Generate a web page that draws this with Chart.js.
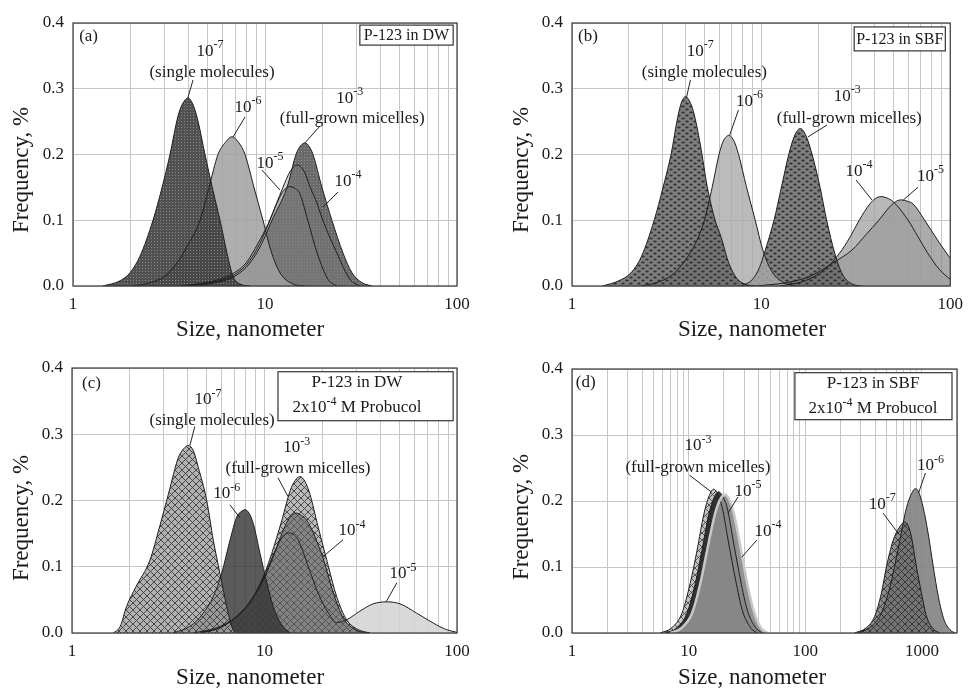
<!DOCTYPE html>
<html>
<head>
<meta charset="utf-8">
<script src="https://cdn.jsdelivr.net/npm/chart.js@4.4.1/dist/chart.umd.min.js"></script>
<style>
  body { margin: 0; background: #fff; }
  #wrap { position: relative; width: 971px; height: 688px; }
  canvas { position: absolute; }
</style>
</head>
<body>
<div id="wrap">
  <canvas id="pa" width="485" height="344" style="left:0;top:0"></canvas>
  <canvas id="pb" width="486" height="344" style="left:485px;top:0"></canvas>
  <canvas id="pc" width="485" height="344" style="left:0;top:344px"></canvas>
  <canvas id="pd" width="486" height="344" style="left:485px;top:344px"></canvas>
</div>
<script>
// size (nm), frequency (%)

// (a) P-123 in DW
const a7 = [[1.43,0],[1.76,0.008],[1.98,0.02],[2.23,0.045],[2.61,0.10],[2.91,0.15],[3.20,0.20],[3.52,0.258],[3.72,0.277],[3.97,0.286],[4.2,0.277],[4.45,0.254],[4.87,0.20],[5.36,0.145],[5.83,0.10],[6.34,0.05],[6.81,0.015],[7.41,0.003],[8.35,0]];
const a6 = [[2.05,0],[2.52,0.005],[3.01,0.015],[3.48,0.035],[3.92,0.06],[4.59,0.10],[5.11,0.15],[5.69,0.20],[6.2,0.218],[6.73,0.227],[7.3,0.218],[7.87,0.20],[8.76,0.15],[9.76,0.10],[10.7,0.055],[11.97,0.02],[14.0,0.003],[16.2,0]];
const a5 = [[3.61,0],[4.87,0.005],[6.41,0.015],[7.96,0.035],[9.20,0.065],[10.4,0.095],[11.7,0.13],[12.5,0.145],[13.5,0.151],[14.4,0.148],[15.2,0.14],[16.7,0.10],[18.7,0.05],[21.3,0.01],[23.7,0]];
const a4 = [[3.83,0],[5.17,0.005],[6.73,0.015],[8.15,0.035],[9.42,0.065],[10.6,0.10],[12.4,0.15],[13.5,0.174],[14.7,0.184],[16.0,0.174],[17.2,0.15],[18.7,0.125],[20.0,0.10],[23.7,0.05],[27.7,0.01],[31.2,0]];
const a3 = [[4.07,0],[5.49,0.005],[6.98,0.015],[8.35,0.035],[9.64,0.065],[10.87,0.10],[13.02,0.15],[14.5,0.20],[15.3,0.213],[16.2,0.2175],[17.0,0.212],[17.78,0.20],[19.8,0.15],[22.3,0.10],[25.5,0.05],[28.4,0.02],[32.0,0.005],[36.1,0]];

// (b) P-123 in SBF
const b7 = [[1.45,0],[1.77,0.008],[2.05,0.02],[2.33,0.045],[2.72,0.10],[3.03,0.15],[3.34,0.20],[3.63,0.258],[3.8,0.280],[3.99,0.288],[4.2,0.280],[4.39,0.265],[4.77,0.215],[5.19,0.151],[5.71,0.10],[6.13,0.075],[6.74,0.035],[7.42,0.012],[8.36,0.002],[9.42,0]];
const b6 = [[2.31,0],[2.86,0.006],[3.42,0.018],[3.99,0.04],[4.50,0.065],[5.01,0.10],[5.51,0.15],[5.99,0.20],[6.3,0.22],[6.75,0.229],[7.2,0.22],[7.60,0.20],[8.36,0.151],[9.31,0.10],[10.2,0.055],[11.4,0.022],[13.2,0.005],[15.2,0]];
const b3 = [[7.9,0],[9.0,0.01],[9.8,0.028],[10.4,0.05],[11.7,0.10],[12.8,0.15],[14.0,0.20],[15.0,0.228],[16.1,0.2395],[17.3,0.228],[18.6,0.20],[20.5,0.15],[22.2,0.10],[24.5,0.05],[26.9,0.018],[30.3,0.003],[34.2,0]];
const b4 = [[12.7,0],[17.1,0.008],[21.7,0.025],[26.0,0.05],[29.6,0.075],[33.0,0.10],[37.6,0.125],[40.2,0.133],[42.9,0.136],[46.2,0.134],[50.0,0.128],[59.9,0.10],[67.5,0.075],[76.0,0.05],[87.7,0.025],[100,0.01]];
const b5 = [[9.42,0],[13.5,0.005],[18.2,0.015],[23.9,0.035],[30.3,0.055],[35.8,0.078],[41.9,0.10],[47.7,0.12],[51.2,0.128],[55.1,0.131],[59.2,0.129],[63.5,0.125],[73.3,0.10],[85.6,0.07],[100,0.042]];

// (c) P-123 in DW, 2x10^-4 M Probucol
const c7 = [[1.64,0],[1.78,0.01],[1.92,0.04],[2.15,0.07],[2.54,0.11],[2.85,0.16],[3.17,0.21],[3.57,0.265],[3.8,0.278],[4.02,0.283],[4.27,0.275],[4.53,0.25],[5.01,0.20],[5.42,0.14],[5.87,0.09],[6.36,0.04],[6.75,0.01],[7.03,0]];
const c6 = [[3.36,0],[4.10,0.01],[4.81,0.03],[5.42,0.055],[5.99,0.09],[6.62,0.14],[7.17,0.175],[7.55,0.183],[7.92,0.186],[8.35,0.18],[8.75,0.165],[9.48,0.12],[10.3,0.075],[11.1,0.04],[12.3,0.012],[13.6,0]];
const c3 = [[4.27,0],[5.64,0.008],[7.17,0.025],[8.75,0.055],[9.86,0.085],[10.9,0.12],[12.3,0.17],[13.6,0.215],[14.4,0.23],[15.3,0.236],[16.2,0.229],[17.2,0.21],[19.0,0.16],[21.5,0.10],[23.7,0.055],[26.7,0.02],[30.7,0.005],[35.3,0]];
const c4 = [[4.62,0],[5.87,0.008],[7.17,0.025],[8.58,0.05],[9.86,0.08],[11.1,0.115],[12.5,0.155],[13.5,0.174],[14.6,0.181],[15.6,0.177],[16.6,0.17],[18.3,0.145],[20.2,0.112],[22.8,0.06],[25.7,0.022],[30.1,0.004],[35.3,0]];
const c5 = [[4.62,0],[5.87,0.008],[7.17,0.025],[8.58,0.05],[10.1,0.09],[11.6,0.13],[12.4,0.145],[13.3,0.151],[14.1,0.149],[15.0,0.14],[16.9,0.10],[19.0,0.06],[21.5,0.03],[23.7,0.016],[26.7,0.02],[31.3,0.033],[36.7,0.044],[43.1,0.047],[50.6,0.044],[61.7,0.03],[75.3,0.015],[88.3,0.005],[100,0.001]];

// (d) P-123 in SBF, 2x10^-4 M Probucol
const d3 = [[5.70,0],[7.18,0.008],[8.76,0.03],[10.3,0.075],[11.8,0.125],[13.5,0.18],[15.0,0.208],[16.4,0.218],[17.8,0.21],[19.4,0.19],[22.1,0.135],[25.3,0.08],[28.8,0.035],[34.0,0.008],[38.8,0]];
const d5 = [[6.29,0],[7.93,0.008],[9.68,0.03],[11.4,0.075],[13.0,0.125],[14.9,0.18],[16.5,0.205],[18.1,0.214],[19.7,0.206],[21.4,0.19],[24.4,0.135],[27.9,0.08],[31.8,0.035],[37.6,0.008],[42.9,0]];
const d4 = [[6.95,0],[8.76,0.008],[10.7,0.03],[12.6,0.075],[14.4,0.125],[16.8,0.18],[18.6,0.202],[20.4,0.21],[22.2,0.203],[24.1,0.185],[27.5,0.135],[31.4,0.08],[35.9,0.035],[41.5,0.008],[47.3,0]];
const d7 = [[264,0],[334,0.008],[393,0.025],[449,0.06],[496,0.10],[566,0.14],[640,0.16],[713,0.168],[765,0.162],[815,0.145],[899,0.10],[993,0.06],[1096,0.025],[1253,0.006],[1429,0]];
const d6 = [[283,0],[356,0.008],[435,0.025],[496,0.05],[566,0.09],[646,0.14],[738,0.19],[810,0.21],[882,0.219],[955,0.21],[1026,0.19],[1134,0.15],[1253,0.10],[1384,0.055],[1549,0.02],[1743,0.005],[1925,0]];

// axis ticks
const gridABC = [1,2,3,4,5,6,7,8,9,10,20,30,40,50,60,70,80,90,100];
const gridD = [1,2,3,4,5,6,7,8,9,10,20,30,40,50,60,70,80,90,100,200,300,400,500,600,700,800,900,1000,2000];
const labelsABC = [1, 10, 100];
const labelsD = [1, 10, 100, 1000];
const yTicks = [0, 0.1, 0.2, 0.3, 0.4];

const FONT = '"Liberation Serif", "Times New Roman", serif';

// fill patterns
function tile(w, h, draw) {
  const c = document.createElement('canvas');
  c.width = w; c.height = h;
  const x = c.getContext('2d');
  draw(x);
  return x.createPattern(c, 'repeat');
}
function dots(bg, dot) {
  return tile(3, 3, x => {
    x.fillStyle = bg; x.fillRect(0, 0, 3, 3);
    x.fillStyle = dot; x.fillRect(1, 1, 1, 1);
  });
}
function ovals(bg, dot) {
  return tile(8, 6, x => {
    x.fillStyle = bg; x.fillRect(0, 0, 8, 6);
    x.fillStyle = dot;
    x.beginPath(); x.ellipse(2, 1.5, 1.8, 1.1, 0, 0, Math.PI * 2); x.fill();
    x.beginPath(); x.ellipse(6, 4.5, 1.8, 1.1, 0, 0, Math.PI * 2); x.fill();
  });
}
function hatch(bg, line) {
  return tile(7, 7, x => {
    x.fillStyle = bg; x.fillRect(0, 0, 7, 7);
    x.strokeStyle = line; x.lineWidth = 1;
    x.beginPath(); x.moveTo(0, 0); x.lineTo(7, 7); x.moveTo(7, 0); x.lineTo(0, 7); x.stroke();
  });
}

const pw = e => [{t: '10'}, {t: e, sup: true}];
const txt = s => [{t: s}];

function drawRich(ctx, segs, x, y, size, align) {
  const sup = Math.round(size * 0.72);
  let w = 0;
  segs.forEach(s => { ctx.font = (s.sup ? sup : size) + 'px ' + FONT; w += ctx.measureText(s.t).width; });
  let cx = align === 'left' ? x : x - w / 2;
  const base = y + size * 0.33;
  ctx.textAlign = 'left';
  ctx.textBaseline = 'alphabetic';
  segs.forEach(s => {
    ctx.font = (s.sup ? sup : size) + 'px ' + FONT;
    ctx.fillText(s.t, cx, s.sup ? base - size * 0.45 : base);
    cx += ctx.measureText(s.t).width;
  });
}

const deco = {
  id: 'deco',
  afterDraw(chart, args, o) {
    const ctx = chart.ctx, a = chart.chartArea;
    const W = a.right - a.left, H = a.bottom - a.top;
    const px = f => a.left + f * W, py = f => a.top + f * H;
    ctx.save();
    // frame
    ctx.strokeStyle = '#3a3a3a'; ctx.lineWidth = 1.2;
    ctx.strokeRect(a.left, a.top, W, H);
    // leader lines
    ctx.strokeStyle = '#222'; ctx.lineWidth = 1;
    o.leaders.forEach(l => {
      ctx.beginPath(); ctx.moveTo(px(l[0]), py(l[1])); ctx.lineTo(px(l[2]), py(l[3])); ctx.stroke();
    });
    ctx.fillStyle = '#1a1a1a';
    o.notes.forEach(n => drawRich(ctx, n.s, px(n.at[0]), py(n.at[1]), 17));
    drawRich(ctx, txt(o.tag[0]), px(o.tag[1]), py(o.tag[2]), 17, 'left');
    // label box
    const b = o.box, r = b.r;
    ctx.fillStyle = '#fff';
    ctx.fillRect(px(r[0]), py(r[1]), px(r[2]) - px(r[0]), py(r[3]) - py(r[1]));
    ctx.strokeStyle = '#333'; ctx.lineWidth = 1.2;
    ctx.strokeRect(px(r[0]), py(r[1]), px(r[2]) - px(r[0]), py(r[3]) - py(r[1]));
    ctx.fillStyle = '#1a1a1a';
    b.lines.forEach((ln, i) => drawRich(ctx, ln, px(b.cx), py(b.ys[i]), b.size));
    // axis titles
    ctx.font = '23px ' + FONT;
    ctx.textAlign = 'center'; ctx.textBaseline = 'middle';
    ctx.fillText('Size, nanometer', o.xt[0], o.xt[1]);
    ctx.translate(o.yt[0], o.yt[1]);
    ctx.rotate(-Math.PI / 2);
    ctx.fillText('Frequency, %', 0, 0);
    ctx.restore();
  }
};

function panel(id, g, xMax, grid, labels, sets, opts) {
  new Chart(document.getElementById(id), {
    type: 'line',
    data: {
      datasets: sets.map(s => ({
        data: s.pts.map(p => ({x: p[0], y: p[1]})),
        fill: 'origin',
        backgroundColor: s.fill,
        borderColor: s.line || '#1e1e1e',
        borderWidth: s.bw || 1,
        pointRadius: 0,
        cubicInterpolationMode: 'monotone'
      }))
    },
    options: {
      responsive: false,
      animation: false,
      devicePixelRatio: 1,
      layout: {padding: {top: g.top, right: g.w - g.right, left: 0, bottom: 0}},
      plugins: {
        legend: {display: false},
        tooltip: {enabled: false},
        filler: {drawTime: 'beforeDatasetsDraw'},   // all outlines stay visible above the fills
        deco: opts
      },
      scales: {
        x: {
          type: 'logarithmic', min: 1, max: xMax,
          afterFit: s => { s.height = g.h - g.bottom; },
          afterBuildTicks: s => { s.ticks = grid.map(v => ({value: v})); },
          ticks: {
            autoSkip: false, maxRotation: 0, padding: 8, color: '#1a1a1a',
            font: {family: FONT, size: 17},
            callback: v => labels.includes(v) ? String(v) : ''
          },
          grid: {color: '#c6c6c6', drawTicks: false},
          border: {display: false}
        },
        y: {
          min: 0, max: 0.4,
          afterFit: s => { s.width = g.left; },
          afterBuildTicks: s => { s.ticks = yTicks.map(v => ({value: v})); },
          ticks: {padding: 9, color: '#1a1a1a', font: {family: FONT, size: 17}, callback: v => v.toFixed(1)},
          grid: {color: '#c6c6c6', drawTicks: false},
          border: {display: false}
        }
      }
    },
    plugins: [deco]
  });
}

const dotsA = dots('rgba(62,62,62,0.9)', 'rgba(140,140,140,0.95)');
const dotsA3 = dots('rgba(80,80,80,0.85)', 'rgba(150,150,150,0.9)');
const ovB = ovals('rgba(105,105,105,0.85)', 'rgba(45,45,45,0.95)');
const hatchC = hatch('rgba(165,165,165,0.85)', 'rgba(60,60,60,0.9)');
const hatchC3 = hatch('rgba(180,180,180,0.9)', 'rgba(60,60,60,0.9)');
const hatchD3 = hatch('rgba(190,190,190,0.9)', 'rgba(70,70,70,0.9)');
const hatchD7 = hatch('rgba(110,110,110,0.8)', 'rgba(50,50,50,0.9)');

panel('pa', {w: 485, h: 344, left: 73, right: 457, top: 23, bottom: 286}, 100, gridABC, labelsABC, [
  {pts: a7, fill: dotsA},
  {pts: a6, fill: 'rgba(160,160,160,0.85)'},
  {pts: a4, fill: 'rgba(125,125,125,0.35)'},
  {pts: a5, fill: 'rgba(125,125,125,0.35)'},
  {pts: a3, fill: dotsA3}
], {
  notes: [
    {s: pw('-7'), at: [0.357, 0.103]}, {s: txt('(single molecules)'), at: [0.362, 0.183]},
    {s: pw('-6'), at: [0.456, 0.316]},
    {s: pw('-3'), at: [0.721, 0.281]}, {s: txt('(full-grown micelles)'), at: [0.727, 0.357]},
    {s: pw('-5'), at: [0.513, 0.529]}, {s: pw('-4'), at: [0.716, 0.597]}
  ],
  leaders: [[0.3125,0.217,0.299,0.285],[0.448,0.357,0.417,0.433],[0.643,0.392,0.604,0.456],[0.492,0.559,0.539,0.635],[0.690,0.643,0.651,0.700]],
  tag: ['(a)', 0.016, 0.046],
  box: {r: [0.747, 0.008, 0.990, 0.084], cx: 0.8685, ys: [0.046], size: 16, lines: [txt('P-123 in DW')]},
  xt: [250, 330], yt: [22, 170]
});

panel('pb', {w: 486, h: 344, left: 87, right: 473, top: 23, bottom: 286}, 100, gridABC, labelsABC, [
  {pts: b7, fill: ovB},
  {pts: b6, fill: 'rgba(170,170,170,0.8)'},
  {pts: b3, fill: ovB},
  {pts: b4, fill: 'rgba(160,160,160,0.75)'},
  {pts: b5, fill: 'rgba(135,135,135,0.7)'}
], {
  notes: [
    {s: pw('-7'), at: [0.339, 0.103]}, {s: txt('(single molecules)'), at: [0.350, 0.183]},
    {s: pw('-6'), at: [0.469, 0.293]},
    {s: pw('-3'), at: [0.728, 0.274]}, {s: txt('(full-grown micelles)'), at: [0.733, 0.357]},
    {s: pw('-4'), at: [0.759, 0.559]}, {s: pw('-5'), at: [0.948, 0.578]}
  ],
  leaders: [[0.313,0.217,0.303,0.281],[0.440,0.331,0.417,0.426],[0.674,0.388,0.624,0.433],[0.751,0.597,0.793,0.673],[0.915,0.624,0.876,0.673]],
  tag: ['(b)', 0.016, 0.046],
  box: {r: [0.746, 0.015, 0.987, 0.106], cx: 0.8665, ys: [0.060], size: 16, lines: [txt('P-123 in SBF')]},
  xt: [267, 330], yt: [37, 170]
});

panel('pc', {w: 485, h: 344, left: 72, right: 457, top: 24, bottom: 289}, 100, gridABC, labelsABC, [
  {pts: c7, fill: hatchC},
  {pts: c6, fill: 'rgba(55,55,55,0.82)'},
  {pts: c4, fill: 'rgba(95,95,95,0.6)'},
  {pts: c3, fill: hatchC3},
  {pts: c5, fill: 'rgba(210,210,210,0.85)'}
], {
  notes: [
    {s: pw('-7'), at: [0.353, 0.116]}, {s: txt('(single molecules)'), at: [0.364, 0.195]},
    {s: pw('-3'), at: [0.584, 0.297]}, {s: txt('(full-grown micelles)'), at: [0.587, 0.376]},
    {s: pw('-6'), at: [0.402, 0.470]}, {s: pw('-4'), at: [0.727, 0.610]}, {s: pw('-5'), at: [0.860, 0.773]}
  ],
  leaders: [[0.319,0.221,0.306,0.293],[0.535,0.414,0.561,0.485],[0.410,0.516,0.436,0.565],[0.704,0.648,0.652,0.712],[0.844,0.810,0.816,0.882]],
  tag: ['(c)', 0.026, 0.055],
  box: {r: [0.535, 0.014, 0.990, 0.199], cx: 0.740, ys: [0.052, 0.146], size: 17,
        lines: [txt('P-123 in DW'), [{t: '2x10'}, {t: '-4', sup: true}, {t: ' M Probucol'}]]},
  xt: [250, 334], yt: [22, 174]
});

panel('pd', {w: 486, h: 344, left: 87, right: 472, top: 25, bottom: 289}, 2000, gridD, labelsD, [
  {pts: d4, fill: 'rgba(140,140,140,0.95)', line: '#c8c8c8', bw: 2.5},
  {pts: d5, fill: 'rgba(35,35,35,0.9)'},
  {pts: d3, fill: hatchD3},
  {pts: d7, fill: hatchD7},
  {pts: d6, fill: 'rgba(130,130,130,0.9)'}
], {
  notes: [
    {s: pw('-3'), at: [0.327, 0.287]}, {s: txt('(full-grown micelles)'), at: [0.327, 0.370]},
    {s: pw('-5'), at: [0.457, 0.458]}, {s: pw('-4'), at: [0.509, 0.610]},
    {s: pw('-7'), at: [0.806, 0.508]}, {s: pw('-6'), at: [0.931, 0.363]}
  ],
  leaders: [[0.305,0.402,0.362,0.466],[0.431,0.485,0.405,0.546],[0.480,0.648,0.441,0.713],[0.808,0.546,0.847,0.622],[0.918,0.394,0.900,0.470]],
  tag: ['(d)', 0.010, 0.048],
  box: {r: [0.579, 0.014, 0.987, 0.192], cx: 0.782, ys: [0.052, 0.147], size: 17,
        lines: [txt('P-123 in SBF'), [{t: '2x10'}, {t: '-4', sup: true}, {t: ' M Probucol'}]]},
  xt: [267, 334], yt: [37, 173]
});
</script>
</body>
</html>
